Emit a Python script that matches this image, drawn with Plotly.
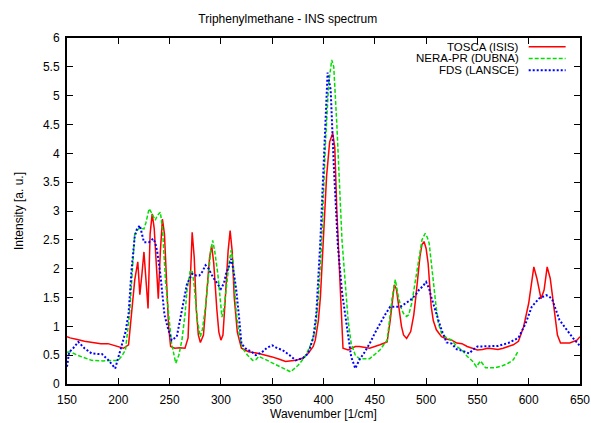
import plotly.graph_objects as go

# ---------------- data ----------------
tosca_x = [150, 153, 160, 167, 175, 183, 190, 197, 205, 210, 213, 216, 219, 221, 223, 225, 227, 229,
           231, 233, 235, 237, 239, 241, 243, 245, 247, 249, 251, 255, 260, 265, 268, 270, 272, 274,
           276, 278, 280, 283, 286, 289, 291, 293, 296, 298, 300, 302, 304, 307, 309, 311, 313, 316,
           320, 327, 337, 345, 350, 357, 363, 373, 380, 385, 390, 392, 395, 397, 400, 403, 406, 409,
           411, 413, 416, 419, 424, 431, 435, 445, 455, 462, 465, 467, 469, 471, 473, 476, 478, 481,
           485, 488, 490, 492, 494, 496, 498, 500, 502, 505, 507, 510, 515, 520, 525, 530, 535, 540,
           545, 550, 555, 560, 565, 570, 575, 580, 585, 590, 595, 600, 603, 605, 608, 612, 615, 618,
           621, 625, 628, 631, 640, 647, 650]
tosca_y = [0.82, 0.80, 0.77, 0.74, 0.72, 0.70, 0.70, 0.66, 0.62, 0.68, 1.2, 1.8, 2.12, 1.55, 1.9, 2.29, 1.8, 1.31,
           2.6, 2.95, 2.7, 2.0, 1.48, 2.3, 2.86, 2.6, 1.8, 1.0, 0.65, 0.62, 0.63, 0.62, 0.8, 1.6, 2.63, 2.2,
           1.3, 0.85, 0.72, 0.85, 1.5, 2.2, 2.4, 2.1, 1.3, 0.9, 0.76, 0.85, 1.4, 2.3, 2.66, 2.3, 1.5, 0.9,
           0.62, 0.56, 0.53, 0.50, 0.47, 0.43, 0.39, 0.41, 0.45, 0.53, 0.65, 0.76, 1.1, 1.51, 2.66, 3.6, 4.2, 4.35,
           4.1, 3.0, 1.8, 0.62, 0.59, 0.65, 0.65, 0.62, 0.68, 0.73, 1.1, 1.45, 1.72, 1.65, 1.4, 1.0, 0.85, 0.79,
           0.91, 1.2, 1.51, 1.9, 2.21, 2.42, 2.47, 2.35, 2.09, 1.34, 1.1, 0.94, 0.82, 0.78, 0.76, 0.71, 0.70, 0.65,
           0.62, 0.59, 0.60, 0.62, 0.61, 0.60, 0.62, 0.65, 0.68, 0.74, 0.99, 1.40, 1.74, 2.03, 1.83, 1.48, 1.63, 2.03,
           1.83, 1.28, 0.85, 0.71, 0.71, 0.76, 0.82]

nera_x = [150, 153, 160, 167, 174, 185, 200, 204, 207, 211, 214, 216, 220, 225, 227, 230, 233, 236, 238,
          241, 243, 244, 246, 249, 252, 256, 259, 262, 265, 267, 270, 272, 274, 277, 280, 282, 285, 288,
          290, 292, 294, 297, 299, 301, 303, 305, 308, 310, 312, 315, 318, 321, 326, 331, 334, 337, 343,
          350, 360, 368, 375, 382, 388, 392, 395, 398, 402, 405, 408, 410, 413, 416, 418, 421, 424, 427,
          431, 435, 445, 455, 462, 465, 467, 470, 473, 476, 478, 481, 483, 486, 488, 491, 493, 496, 499,
          501, 503, 505, 507, 510, 512, 515, 520, 525, 530, 535, 540, 545, 549, 553, 556, 558, 567, 575,
          580, 585, 590]
nera_y = [0.55, 0.56, 0.50, 0.46, 0.41, 0.40, 0.41, 0.50, 0.59, 1.22, 2.0, 2.6, 2.7, 2.69, 2.8, 3.04, 2.95, 2.84, 2.92,
          2.98, 2.7, 2.37, 1.8, 1.22, 0.7, 0.36, 0.5, 0.76, 1.2, 1.63, 1.95, 1.97, 1.7, 1.1, 0.82, 0.95, 1.34, 1.9,
          2.3, 2.49, 2.3, 1.91, 1.5, 1.16, 1.3, 1.63, 2.1, 2.32, 2.1, 1.22, 0.85, 0.62, 0.50, 0.41, 0.42, 0.48, 0.43,
          0.37, 0.29, 0.21, 0.32, 0.47, 0.7, 0.93, 1.5, 2.37, 4.2, 5.2, 5.62, 5.5, 4.5, 3.2, 2.5, 1.8, 1.1, 0.70,
          0.50, 0.44, 0.44, 0.59, 0.76, 1.2, 1.51, 1.81, 1.51, 1.3, 1.22, 1.17, 1.2, 1.4, 1.63, 1.95, 2.21, 2.5, 2.61,
          2.55, 2.44, 2.1, 1.74, 1.3, 1.05, 0.88, 0.80, 0.76, 0.65, 0.59, 0.48, 0.40, 0.30, 0.40, 0.33, 0.28, 0.28, 0.32,
          0.36, 0.42, 0.58]

fds_x = [150, 152, 156, 161, 167, 174, 180, 184, 190, 197, 203, 207, 210, 213, 216, 218, 221, 223, 225,
         230, 234, 236, 238, 241, 243, 245, 248, 252, 257, 260, 262, 265, 267, 272, 276, 279, 282, 285,
         288, 292, 296, 300, 303, 305, 308, 310, 312, 315, 318, 320, 325, 330, 334, 340, 345, 350, 355,
         360, 367, 373, 380, 385, 390, 393, 397, 401, 404, 407, 410, 414, 418, 421, 424, 427, 431, 435,
         440, 445, 450, 455, 460, 465, 470, 475, 480, 485, 490, 493, 497, 500, 503, 505, 510, 515, 520,
         525, 530, 535, 542, 546, 550, 560, 570, 580, 590, 597, 603, 610, 617, 620, 623, 630, 637, 643, 650]
fds_y = [0.30, 0.55, 0.62, 0.73, 0.62, 0.53, 0.52, 0.52, 0.42, 0.27, 0.65, 0.9, 1.22, 2.0, 2.55, 2.68, 2.75, 2.6, 2.46,
         2.46, 2.52, 2.45, 2.29, 1.9, 1.51, 1.2, 0.99, 0.76, 0.82, 1.1, 1.34, 1.6, 1.74, 1.91, 1.88, 1.88, 1.95, 2.06,
         2.0, 1.86, 1.75, 1.65, 1.75, 1.91, 2.05, 2.17, 2.0, 1.63, 1.1, 0.70, 0.60, 0.56, 0.50, 0.55, 0.63, 0.67, 0.62,
         0.59, 0.50, 0.41, 0.45, 0.53, 0.8, 1.22, 2.5, 4.2, 5.4, 5.1, 3.8, 2.4, 1.6, 1.22, 0.8, 0.47, 0.27, 0.42,
         0.55, 0.70, 0.88, 1.05, 1.2, 1.34, 1.34, 1.34, 1.40, 1.46, 1.55, 1.63, 1.7, 1.77, 1.65, 1.51, 1.22, 0.94, 0.72,
         0.70, 0.60, 0.58, 0.53, 0.60, 0.65, 0.66, 0.66, 0.71, 0.80, 1.05, 1.34, 1.48, 1.54, 1.52, 1.46, 1.11, 0.94, 0.80, 0.66]

series_names = ["TOSCA (ISIS)", "NERA-PR (DUBNA)", "FDS (LANSCE)"]
x_ticks = [150, 200, 250, 300, 350, 400, 450, 500, 550, 600, 650]
y_ticks = [0, 0.5, 1, 1.5, 2, 2.5, 3, 3.5, 4, 4.5, 5, 5.5, 6]

# ---------------- styles ----------------
colors = ["#ff0000", "#00e000", "#0000ff"]
dashes = ["solid", "4px,2px", "2px,2px"]
widths = [1.5, 1.5, 2.0]
FONT = "Liberation Sans, Arial, sans-serif"

fig = go.Figure()
for name, xs, ys, c, d, w in zip(series_names, [tosca_x, nera_x, fds_x], [tosca_y, nera_y, fds_y],
                                   colors, dashes, widths):
    fig.add_trace(go.Scatter(x=xs, y=ys, mode="lines", name=name,
                             line=dict(color=c, dash=d, width=w), showlegend=False))

# custom gnuplot-style legend (text right-aligned, sample to the right)
for i, (name, c, d, w) in enumerate(zip(series_names, colors, dashes, widths)):
    yp = 0.975 - i * 0.034
    fig.add_annotation(x=0.883, y=yp, xref="paper", yref="paper", text=name, showarrow=False,
                       xanchor="right", yanchor="middle", borderpad=0,
                       font=dict(size=11.5, color="black", family=FONT))
    fig.add_shape(type="line", xref="paper", yref="paper", x0=0.900, x1=0.972, y0=yp, y1=yp,
                  line=dict(color=c, dash=d, width=w))

axis_common = dict(showline=True, linecolor="black", linewidth=2, mirror="allticks",
                   ticks="inside", ticklen=6, tickwidth=1.2, tickcolor="black",
                   showgrid=False, zeroline=False, automargin=False,
                   tickfont=dict(size=12, color="black", family=FONT))

fig.update_xaxes(range=[150, 650], tickvals=x_ticks, ticklabelstandoff=4,
                 title=dict(text="Wavenumber [1/cm]", font=dict(size=12, color="black", family=FONT),
                            standoff=3),
                 **axis_common)
fig.update_yaxes(range=[0, 6], tickvals=y_ticks, ticklabelstandoff=3,
                 title=dict(text="Intensity [a. u.]", font=dict(size=12, color="black", family=FONT),
                            standoff=17),
                 **axis_common)

fig.update_layout(
    width=591, height=423,
    margin=dict(l=67, r=11, t=38, b=39),
    paper_bgcolor="white", plot_bgcolor="white",
    title=dict(text="Triphenylmethane - INS spectrum", x=0.487, xref="container", xanchor="center",
               y=0.955, yref="container", yanchor="middle",
               font=dict(size=12, color="black", family=FONT)),
)

fig.write_html("out.html", config={"displayModeBar": False},
               post_script="document.body.style.margin='0px';document.body.style.overflow='hidden';")
